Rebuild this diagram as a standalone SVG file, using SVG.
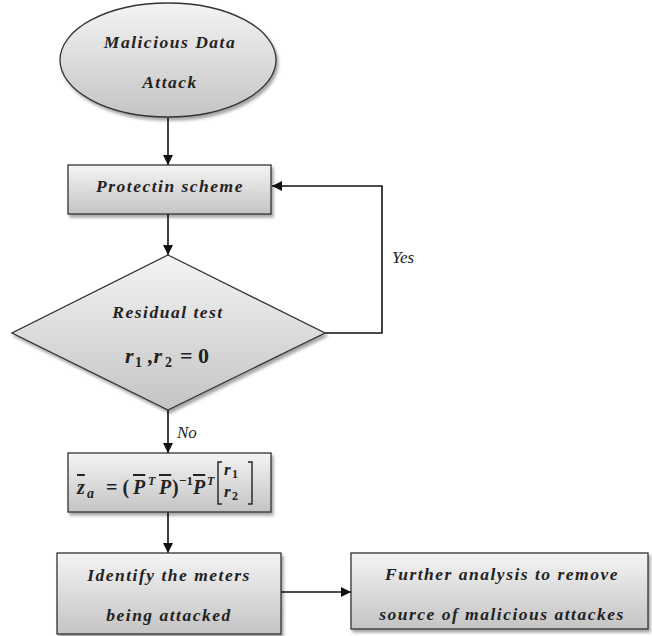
<svg xmlns="http://www.w3.org/2000/svg" width="652" height="636" viewBox="0 0 652 636">
<defs>
<linearGradient id="g" x1="0" y1="0" x2="0" y2="1">
<stop offset="0" stop-color="#f4f4f4"/>
<stop offset="1" stop-color="#c4c4c4"/>
</linearGradient>
<filter id="sh" x="-10%" y="-10%" width="125%" height="130%">
<feDropShadow dx="2" dy="3" stdDeviation="1.5" flood-color="#000" flood-opacity="0.35"/>
</filter>
<marker id="ah" viewBox="0 0 10 10" refX="10" refY="5" markerWidth="10" markerHeight="10" markerUnits="userSpaceOnUse" orient="auto">
<path d="M0,0 L10,5 L0,10 z" fill="#111"/>
</marker>
</defs>
<style>
.shape{fill:url(#g);stroke:#333;stroke-width:1.3;filter:url(#sh)}
.t{font-family:"Liberation Serif","DejaVu Serif",serif;font-weight:bold;font-style:italic;font-size:17.5px;fill:#222;letter-spacing:1.5px;text-anchor:middle}
.m{font-family:"Liberation Serif","DejaVu Serif",serif;font-weight:bold;font-style:italic;fill:#222}
.n{font-family:"Liberation Serif","DejaVu Serif",serif;font-weight:bold;font-style:normal;fill:#222}
.br{fill:none;stroke:#222;stroke-width:1.4}
.o{text-decoration:overline}
.lbl{font-family:"Liberation Serif","DejaVu Serif",serif;font-style:italic;font-size:17px;fill:#222}
.c{fill:none;stroke:#111;stroke-width:1.6}
</style>
<rect width="652" height="636" fill="#fff"/>
<g id="connectors">
<line class="c" x1="168" y1="118" x2="168" y2="165" marker-end="url(#ah)"/>
<line class="c" x1="168" y1="214" x2="168" y2="255" marker-end="url(#ah)"/>
<polyline class="c" points="325,333 382,333 382,186 272,186" marker-end="url(#ah)"/>
<line class="c" x1="168" y1="410" x2="168" y2="453" marker-end="url(#ah)"/>
<line class="c" x1="168" y1="512" x2="168" y2="553" marker-end="url(#ah)"/>
<line class="c" x1="281" y1="592" x2="351" y2="592" marker-end="url(#ah)"/>
<text class="lbl" x="392" y="263">Yes</text>
<text class="lbl" x="177" y="438">No</text>
</g>
<g id="start">
<ellipse class="shape" cx="168" cy="60" rx="108" ry="57"/>
<text class="t" x="170" y="48">Malicious Data</text>
<text class="t" x="170" y="88">Attack</text>
</g>
<g id="protection">
<rect class="shape" x="68" y="165" width="203" height="49"/>
<text class="t" x="170" y="192">Protectin scheme</text>
</g>
<g id="residual">
<polygon class="shape" points="168,255 325,333 168,410 12,333"/>
<text class="t" x="168" y="318">Residual test</text>
<text class="m" x="125" y="363" font-size="22">r</text>
<text class="n" x="135" y="367" font-size="14">1</text>
<text class="m" x="148" y="363" font-size="22">,r</text>
<text class="n" x="165" y="367" font-size="14">2</text>
<text class="n" x="180" y="363" font-size="22">= 0</text>
</g>
<g id="estimate">
<rect class="shape" x="68" y="453" width="203" height="59"/>
<text class="m o" x="77" y="494" font-size="20">z</text>
<text class="m" x="87" y="498" font-size="14">a</text>
<text class="n" x="106" y="494" font-size="20">= (</text>
<text class="m o" x="133" y="494" font-size="20">P</text>
<text class="m" x="148" y="485" font-size="12">T</text>
<text class="m o" x="159" y="494" font-size="20">P</text>
<text class="n" x="172" y="494" font-size="20">)</text>
<text class="n" x="179" y="485" font-size="13">−1</text>
<text class="m o" x="193" y="494" font-size="20">P</text>
<text class="m" x="207" y="485" font-size="12">T</text>
<path class="br" d="M222,462 h-4 v42 h4"/>
<path class="br" d="M248,462 h4 v42 h-4"/>
<text class="m" x="224" y="475" font-size="17">r</text>
<text class="n" x="232" y="478" font-size="12">1</text>
<text class="m" x="224" y="497" font-size="17">r</text>
<text class="n" x="232" y="500" font-size="12">2</text>
</g>
<g id="identify">
<rect class="shape" x="57" y="553" width="224" height="81"/>
<text class="t" x="169" y="581">Identify the meters</text>
<text class="t" x="169" y="621">being attacked</text>
</g>
<g id="further">
<rect class="shape" x="351" y="553" width="297" height="76"/>
<text class="t" x="502" y="580">Further analysis to remove</text>
<text class="t" x="502" y="620">source of malicious attackes</text>
</g>
</svg>
